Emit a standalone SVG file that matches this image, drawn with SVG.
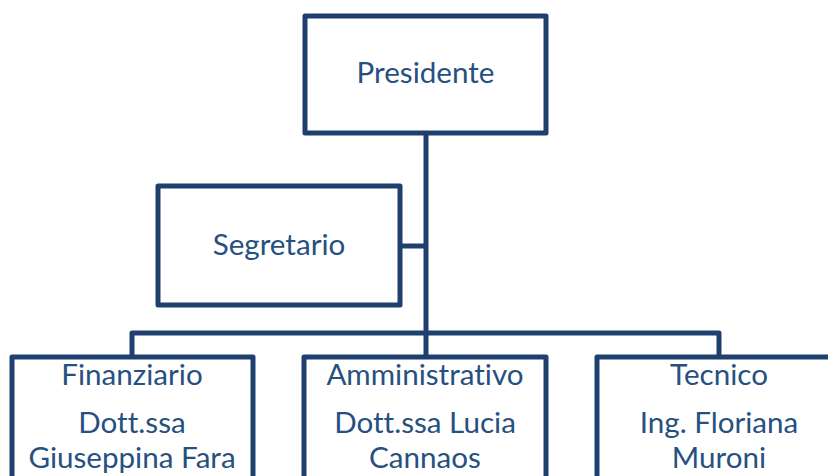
<svg xmlns="http://www.w3.org/2000/svg" width="828" height="476" viewBox="0 0 828 476">
<style>
.box{fill:#ffffff;stroke:#1F3F6E;stroke-width:5;stroke-linejoin:round}
.line{fill:none;stroke:#1F3F6E;stroke-width:5;stroke-linejoin:round}
.t{font-family:Lato,"Open Sans","Liberation Sans",sans-serif;font-size:29.6px;fill:#26507F;text-anchor:middle;font-variant-ligatures:none;font-feature-settings:"liga" 0,"clig" 0,"dlig" 0}
</style>
<rect width="828" height="476" fill="#ffffff"/>
<g id="connectors">
<path class="line" d="M426,133 V357"/>
<path class="line" d="M400,246 H426"/>
<path class="line" d="M132,357 V333 H719 V357"/>
</g>
<g id="presidente">
<rect class="box" x="305" y="16" width="241" height="117"/>
<text class="t" x="425.5" y="83">Presidente</text>
</g>
<g id="segretario">
<rect class="box" x="158" y="186" width="242" height="119"/>
<text class="t" x="279" y="255">Segretario</text>
</g>
<g id="finanziario">
<rect class="box" x="12" y="357" width="241" height="140"/>
<text class="t" x="132" y="385">Finanziario</text>
<text class="t" x="132" y="433">Dott.ssa</text>
<text class="t" x="132" y="468">Giuseppina Fara</text>
</g>
<g id="amministrativo">
<rect class="box" x="304" y="357" width="242" height="140"/>
<text class="t" x="425" y="385">Amministrativo</text>
<text class="t" x="425" y="433">Dott.ssa Lucia</text>
<text class="t" x="425" y="468">Cannaos</text>
</g>
<g id="tecnico">
<rect class="box" x="597" y="357" width="260" height="140"/>
<text class="t" x="719" y="385">Tecnico</text>
<text class="t" x="719" y="433">Ing. Floriana</text>
<text class="t" x="719" y="468">Muroni</text>
</g>
</svg>
